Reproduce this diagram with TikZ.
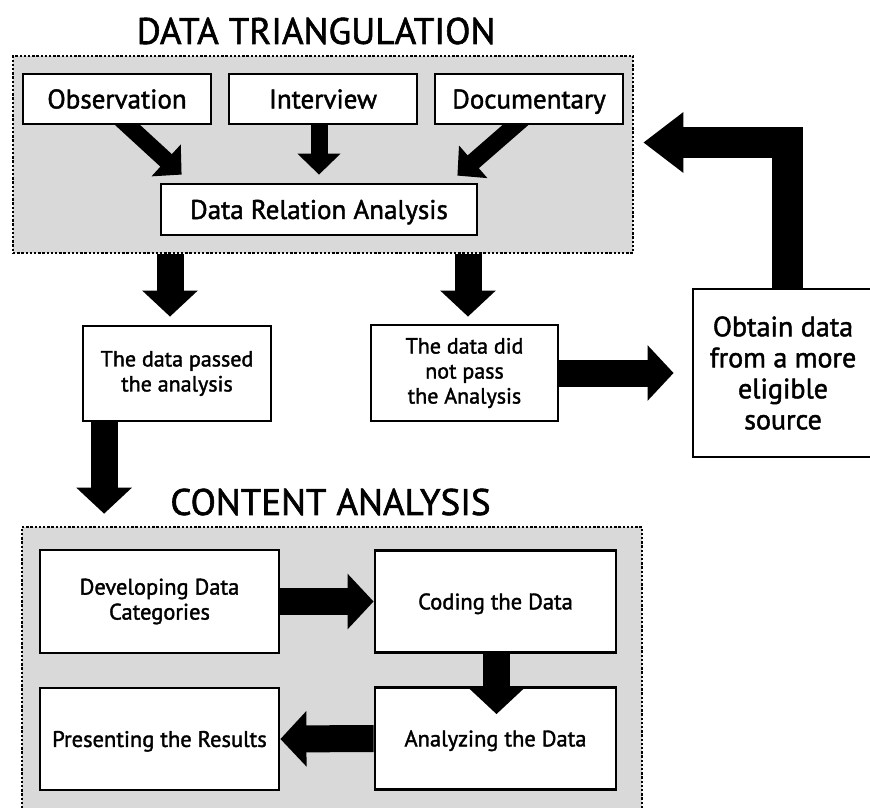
\documentclass[tikz,border=0pt]{standalone}
\usepackage{fontspec}
\setmainfont{PT Sans}[RawFeature={embolden=1.6}]
\usetikzlibrary{arrows.meta,calc}
\pgfdeclarelayer{back}
\pgfdeclarelayer{under}
\pgfsetlayers{back,under,main}
\definecolor{panelgray}{HTML}{D9D9D9}
\tikzset{
  panel/.style={rectangle, draw=black, fill=panelgray, line width=2.6pt,
    dash pattern=on 2.4pt off 1.8pt, inner sep=0pt},
  box/.style={rectangle, draw=black, fill=white, line width=2.8pt,
    inner sep=0pt, align=center},
  heading/.style={inner sep=0pt, text height=25.9pt, text depth=0pt,
    font=\fontsize{37}{44}\selectfont},
  srcfont/.style={font=\fontsize{27}{32}\selectfont, text height=18.9pt, text depth=0pt},
  midfont/.style={font=\fontsize{22}{25}\selectfont},
  bigfont/.style={font=\fontsize{28}{31}\selectfont},
  stagefont/.style={font=\fontsize{22.5}{25}\selectfont},
  stageline/.style={stagefont, text height=15.8pt, text depth=0pt},
  blockarrow/.style={line width=27pt, -{Triangle[width=54pt,length=26pt]}},
  slimarrow/.style={line width=17pt, -{Triangle[width=42pt,length=21pt]}},
  returnarrow/.style={line width=31pt, -{Triangle[width=58pt,length=40pt]}},
}
\begin{document}
\begin{tikzpicture}[x=1pt,y=-1pt]
\useasboundingbox (0,0) rectangle (870,807);
\clip (0,0) rectangle (870,807);

% grey dotted panels
\begin{pgfonlayer}{back}
  \node[panel, minimum width=620pt, minimum height=197pt] (tri) at (323,154.5) {};
  \node[panel, minimum width=620pt, minimum height=308pt] (cnt) at (332,681) {};
\end{pgfonlayer}

% headings
\node[heading] (title1) at (316,31) {DATA TRIANGULATION};
\node[heading] (title2) at (330.5,502) {CONTENT ANALYSIS};

% data sources
\node[box, srcfont, minimum width=188pt, minimum height=50pt] (obs)  at (117,99) {Observation};
\node[box, srcfont, minimum width=188pt, minimum height=50pt] (intv) at (323,99) {Interview};
\node[box, srcfont, minimum width=188pt, minimum height=50pt] (doc)  at (529,99) {Documentary};
\node[box, srcfont, minimum width=316pt, minimum height=51pt] (dra)  at (319,209.5) {Data Relation Analysis};

% outcomes
\node[box, midfont, minimum width=188pt, minimum height=95pt] (passed)  at (177,373.5) {The data passed\\the analysis};
\node[box, midfont, minimum width=187pt, minimum height=96pt] (notpass) at (464.5,373) {The data did\\not pass\\the Analysis};
\node[box, bigfont, minimum width=180pt, minimum height=168pt] (obtain) at (783,373) {Obtain data\\from a more\\eligible\\source};

% content analysis stages
\node[box, stagefont, minimum width=239pt, minimum height=103pt] (dev)    at (159.5,601.5) {Developing Data\\Categories};
\node[box, stageline, minimum width=241pt, minimum height=102pt] (coding) at (495.5,601.5) {Coding the Data};
\node[box, stageline, minimum width=239pt, minimum height=102pt] (pres)   at (159.5,739) {Presenting the Results};
\node[box, stageline, minimum width=241pt, minimum height=102pt] (anal)   at (495.5,738.5) {Analyzing the Data};

% arrows from the sources, tucked under the boxes
\begin{pgfonlayer}{under}
  \draw[slimarrow, shorten <=-12pt] ($(obs.south)+(11,0)$) -- ($(dra.north west)+(22,-8)$);
  \draw[slimarrow] (dra.north |- intv.south) -- ($(dra.north)+(0,-8)$);
  \draw[slimarrow, shorten <=-12pt] ($(doc.south)+(-14,0)$) -- ($(dra.north east)+(-21,-7)$);
\end{pgfonlayer}

% triangulation outcomes
\coordinate (d1) at ($(passed.north)+(-7,-8)$);
\coordinate (d2) at ($(notpass.north)+(3.5,-7)$);
\draw[blockarrow] (d1 |- tri.south) -- (d1);
\draw[blockarrow] (d2 |- tri.south) -- (d2);
\coordinate (d3) at ($(passed.south west)+(22.5,0)$);
\draw[blockarrow] (d3) -- ($(d3 |- cnt.north)+(0,-12)$);
\draw[blockarrow] (notpass.east) -- ($(obtain.west)+(-18,0)$);
\draw[returnarrow] ($(obtain.north)+(4.5,0)$) |- ($(tri.east)+(9,-12)$);

% content analysis flow
\draw[blockarrow] (dev.east) -- (coding.west);
\draw[blockarrow] ($(coding.south)+(1,0)$) -- ($(anal.north)+(1,28)$);
\draw[blockarrow] (anal.west) -- (pres.east);
\end{tikzpicture}
\end{document}
